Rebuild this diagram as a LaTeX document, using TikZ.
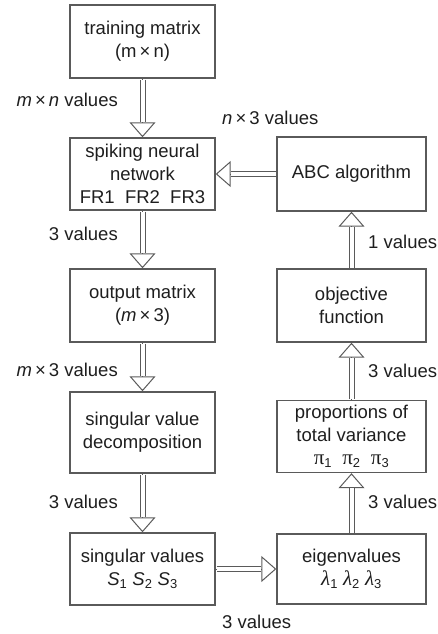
\documentclass[tikz,border=0pt]{standalone}
\usepackage{fontspec}
\setmainfont{Liberation Sans}
\newfontfamily\grk{Liberation Serif}
\usetikzlibrary{arrows.meta, positioning}
\definecolor{boxgray}{HTML}{5A5A5A}
\definecolor{txtgray}{HTML}{1E1E1E}
\newcommand{\grkbig}{\grk\fontsize{21}{23}\selectfont}

\begin{document}
\begin{tikzpicture}[x=1pt, y=-1pt,
     box/.style={draw=boxgray, line width=1.4pt, rectangle, align=center, inner sep=0pt,
                 text=txtgray, font=\fontsize{18.5}{23}\selectfont},
     lbl/.style={inner sep=0pt, text=txtgray, font=\fontsize{18.5}{23}\selectfont},
     shaft/.style={draw=boxgray, line width=1pt, double=white, double distance=4pt,
                   shorten >=15pt, shorten <=0.8pt},
     tip/.style={draw=boxgray, line width=1pt,
                 -{Triangle[open, length=15pt, width=26pt, line width=1pt]}}
     ]
\useasboundingbox (0,0) rectangle (438,634);

%Left column
\node[box, minimum width=145pt, minimum height=73pt] (tm) at (142.5,41.5)
   {training matrix\\(m\,×\,n)};
\node[box, minimum width=145pt, minimum height=72pt] (snn) at (142.5,174)
   {spiking neural\\network\\FR1\ \ FR2\ \ FR3};
\node[box, minimum width=145pt, minimum height=73pt] (out) at (142.5,305.5)
   {output matrix\\(\textit{m}\,×\,3)};
\node[box, minimum width=145pt, minimum height=81pt] (svd) at (142.5,432.5)
   {singular value\\decomposition};
\node[box, minimum width=145pt, minimum height=72pt] (sv) at (142.5,569)
   {singular values\\\textit{S}\textsubscript{1} \textit{S}\textsubscript{2} \textit{S}\textsubscript{3}};

%Right column
\node[box, minimum width=149pt, minimum height=74pt] (abc) at (351.5,174)
   {ABC algorithm};
\node[box, minimum width=149pt, minimum height=73pt] (obj) at (351.5,305.5)
   {objective\\function};
\node[box, minimum width=149pt, minimum height=72pt] (prop) at (351.5,436.5)
   {proportions of\\total variance\\{\grkbig π}\textsubscript{1}\ \ {\grkbig π}\textsubscript{2}\ \ {\grkbig π}\textsubscript{3}};
\node[box, minimum width=149pt, minimum height=70pt] (eig) at (351.5,569)
   {eigenvalues\\{\grkbig\itshape λ}\textsubscript{1} {\grkbig\itshape λ}\textsubscript{2} {\grkbig\itshape λ}\textsubscript{3}};

%Double arrows with open heads
\foreach \a/\b in {tm/snn, snn/out, out/svd, svd/sv, sv/eig, eig/prop, prop/obj, obj/abc, abc/snn}
{
   \draw[tip] (\a) -- (\b);
   \draw[shaft] (\a) -- (\b);
}

%Labels on the arrows
\node[lbl, anchor=east] (l1) at (118,100) {\textit{m}\,×\,\textit{n} values};
\node[lbl, anchor=east] (l2) at (118,234) {3 values};
\node[lbl, anchor=east] (l3) at (118,370) {\textit{m}\,×\,3 values};
\node[lbl, anchor=east] (l4) at (118,502) {3 values};
\node[lbl, anchor=west] (r1) at (368,242) {1 values};
\node[lbl, anchor=west] (r2) at (368,371) {3 values};
\node[lbl, anchor=west] (r3) at (368,502) {3 values};
\node[lbl, anchor=west] (t1) at (222,118) {\textit{n}\,×\,3 values};
\node[lbl, anchor=west] (b1) at (222,622) {3 values};
\end{tikzpicture}
\end{document}
